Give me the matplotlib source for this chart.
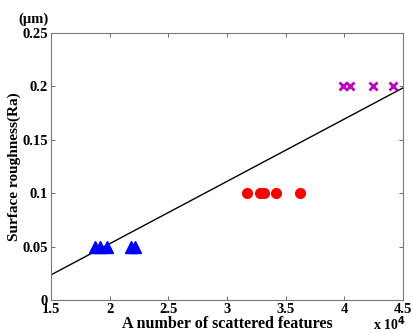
import numpy as np
import matplotlib.pyplot as plt

plt.rcParams["font.family"] = ["Liberation Serif", "DejaVu Serif"]
plt.rcParams["font.weight"] = "bold"

# dados (x em unidades de 10^4)
x_azul = [1.88, 1.92, 1.98, 2.18, 2.22]
y_azul = [0.05, 0.05, 0.05, 0.05, 0.05]
x_verm = [3.17, 3.28, 3.32, 3.42, 3.62]
y_verm = [0.1, 0.1, 0.1, 0.1, 0.1]
x_mag = [3.99, 4.05, 4.25, 4.42]
y_mag = [0.2, 0.2, 0.2, 0.2]

# reta ajustada (extremos)
x_reta = [1.5, 4.5]
y_reta = [0.0235, 0.1985]

fig = plt.figure(figsize=(4.14, 3.33), dpi=100)
ax = fig.add_axes([0.123, 0.099, 0.850, 0.802])

ax.plot(x_reta, y_reta, color="black", linewidth=1)
ax.plot(x_azul, y_azul, "^", color="blue", markersize=8, linestyle="none")
ax.plot(x_verm, y_verm, "o", color="red", markersize=7, linestyle="none")
ax.plot(x_mag, y_mag, "x", color="#c000c0", markersize=5.5, markeredgewidth=2, linestyle="none")

ax.set_xlim(1.5, 4.5)
ax.set_ylim(0, 0.25)
ax.set_xticks([1.5, 2, 2.5, 3, 3.5, 4, 4.5])
ax.set_xticklabels(["1.5", "2", "2.5", "3", "3.5", "4", "4.5"])
ax.set_yticks([0, 0.05, 0.1, 0.15, 0.2, 0.25])
ax.set_yticklabels(["0", "0.05", "0.1", "0.15", "0.2", "0.25"])
ax.tick_params(direction="in", top=True, right=True, length=3, width=0.6,
               color="#555555", labelsize=10.5, pad=2)
for lado in ax.spines.values():
    lado.set_color("#777777")
    lado.set_linewidth(0.8)

ax.set_xlabel("A number of scattered features", fontsize=11.5, fontweight="bold", labelpad=0)
ax.set_ylabel("Surface roughness(Ra)", fontsize=11, fontweight="bold", labelpad=1)
fig.text(0.045, 0.93, "(\u00b5m)", fontsize=10.5, fontweight="bold")
fig.text(0.90, 0.008, r"x 10$^{\mathbf{4}}$", fontsize=10, fontweight="bold")

fig.savefig("out.png", dpi=100)
